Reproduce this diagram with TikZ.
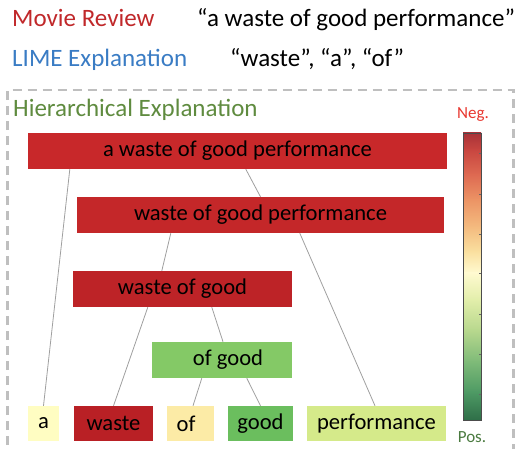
\documentclass[tikz,border=0pt]{standalone}
\usepackage{fontspec}
\setmainfont{Carlito}
\usetikzlibrary{calc}
\definecolor{cRed}{HTML}{C8282A}
\definecolor{cRedB}{HTML}{C42729}
\definecolor{cRedC}{HTML}{BD2327}
\definecolor{cRedD}{HTML}{B92025}
\definecolor{cOfGood}{HTML}{84C966}
\definecolor{cGood}{HTML}{6BBE5E}
\definecolor{cA}{HTML}{FFFDC2}
\definecolor{cOf}{HTML}{FCEBA6}
\definecolor{cPerf}{HTML}{D5EA8A}
\definecolor{hRed}{HTML}{C0282A}
\definecolor{hBlue}{HTML}{3A7CC4}
\definecolor{hGreen}{HTML}{5F8B3F}
\definecolor{negRed}{HTML}{E8372F}
\definecolor{posGreen}{HTML}{4A7A3F}
\definecolor{cs0}{HTML}{A83238}
\definecolor{cs1}{HTML}{C84640}
\definecolor{cs2}{HTML}{DE6A52}
\definecolor{cs3}{HTML}{EC9465}
\definecolor{cs4}{HTML}{F4BC80}
\definecolor{cs5}{HTML}{FAE0A0}
\definecolor{cs6}{HTML}{FFFAD0}
\definecolor{cs7}{HTML}{E2EEAA}
\definecolor{cs8}{HTML}{B8D88E}
\definecolor{cs9}{HTML}{7EBA78}
\definecolor{cs10}{HTML}{4E9A64}
\definecolor{cs11}{HTML}{2E6E48}
\tikzset{
  heading/.style={anchor=base west, inner sep=0pt, font=\fontsize{25}{30}\selectfont},
  phrase/.style={rectangle, inner sep=0pt, minimum height=36pt, font=\fontsize{22.6}{27}\selectfont},
  leaf/.style={phrase, minimum height=35pt},
  link/.style={draw=gray!75, line width=0.8pt},
  frame/.style={draw=gray!50, line width=2.5pt, dash pattern=on 9pt off 6pt},
  barlabel/.style={inner sep=0pt, font=\fontsize{17}{20}\selectfont}
}
\begin{document}
\begin{tikzpicture}[x=1pt, y=-1pt]
\useasboundingbox (0,0) rectangle (516,448);
% headings
\node[heading, text=hRed] (mr) at (12,26) {Movie Review};
\node[heading] (mrq) at (197,26) {“a waste of good performance”};
\node[heading, text=hBlue] (le) at (12,66) {LIME Explanation};
\node[heading] (leq) at (230,66) {“waste”, “a”, “of”};
% frame
\draw[frame] (7.5,460) -- (7.5,90) -- (513.5,90) -- (513.5,460);
\node[heading, text=hGreen] (he) at (13,116.5) {Hierarchical Explanation};
% phrase boxes
\node[phrase, fill=cRed, minimum width=419pt] (b1) at (237.5,151) {a waste of good performance};
\node[phrase, fill=cRedB, minimum width=367pt] (b2) at (260.5,215) {waste of good performance};
\node[phrase, fill=cRedC, minimum width=219pt] (b3) at (182.5,289) {waste of good};
\node[phrase, fill=cOfGood, minimum width=140pt] (b4) at (222,360) {\hspace*{12pt}of good};
% leaves
\node[leaf, fill=cA, minimum width=31pt] (la) at (43.5,423.5) {a};
\node[leaf, fill=cRedD, minimum width=79pt] (lwaste) at (113.5,423.5) {waste};
\node[leaf, fill=cOf, minimum width=47pt] (lof) at (190.5,423.5) {of\hspace*{9pt}};
\node[leaf, fill=cGood, minimum width=65pt] (lgood) at (260.5,423.5) {good};
\node[leaf, fill=cPerf, minimum width=139pt] (lperf) at (376.5,423.5) {performance};
% links
\draw[link] ($(b1.south west)+(42,0)$) -- (la.north);
\draw[link] ($(b1.south west)+(218,0)$) -- (b2.north);
\draw[link] ($(b2.south west)+(94,0)$) -- ($(b3.north west)+(89,0)$);
\draw[link] ($(b2.south west)+(223,0)$) -- ($(lperf.north)+(-1.5,0)$);
\draw[link] ($(b3.south west)+(75,0)$) -- (lwaste.north);
\draw[link] ($(b3.south west)+(139,0)$) -- ($(b4.north)+(1,0)$);
\draw[link] ($(b4.south west)+(50,0)$) -- ($(lof.north)+(2.5,0)$);
\draw[link] ($(b4.south west)+(95,0)$) -- (lgood.north);
% colour bar gradient (segments, top to bottom)
\foreach \ya/\yb/\ca/\cb in {133/150/cs0/cs1, 150/175/cs1/cs2, 175/200/cs2/cs3, 200/228/cs3/cs4, 228/252/cs4/cs5, 252/273/cs5/cs6, 273/300/cs6/cs7, 300/330/cs7/cs8, 330/362/cs8/cs9, 362/392/cs9/cs10, 392/420/cs10/cs11}
  \shade[top color=\ca, bottom color=\cb] (463,\ya-0.3) rectangle (481,\yb+0.3);
\node[draw=black!70, line width=0.6pt, minimum width=18pt, minimum height=287pt, inner sep=0pt] (cbar) at (472,276.5) {};
\foreach \t in {153,194,234,273,314,354,394}
  \draw[black!60, line width=0.5pt] (479,\t) -- (481,\t);
\node[barlabel, text=negRed] (neg) at (473,115) {Neg.};
\node[barlabel, text=posGreen] (pos) at (472,437) {Pos.};
\end{tikzpicture}
\end{document}
